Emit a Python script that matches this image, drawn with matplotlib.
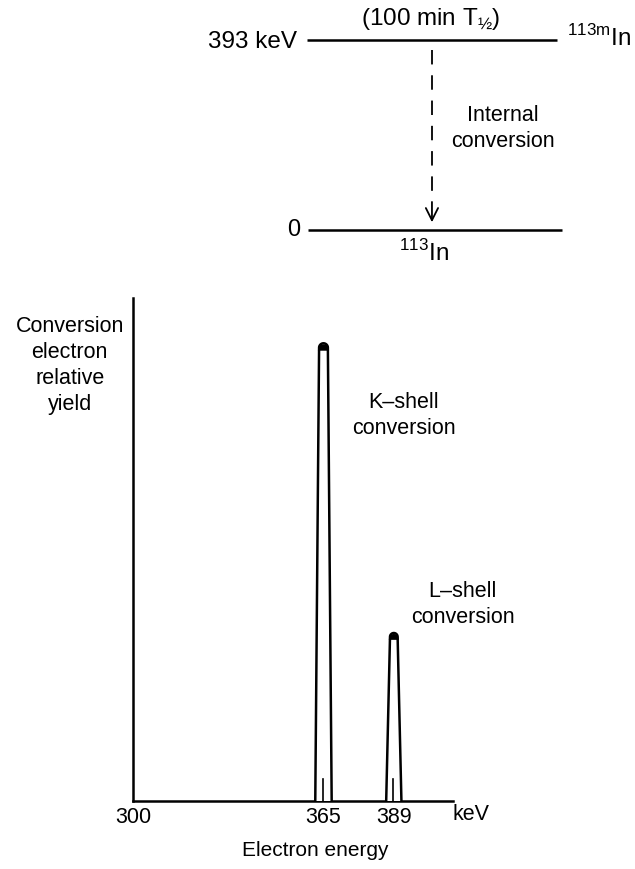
import matplotlib
matplotlib.use("Agg")
import matplotlib.pyplot as plt
import numpy as np
from matplotlib.patches import Polygon

plt.rcParams['font.family'] = ['Liberation Sans', 'DejaVu Sans']

# ---- data ----
level_energies = [393, 0]            # keV
level_left_labels = ["393 keV", "0"]
peak_labels = ["K\u2013shell\nconversion", "L\u2013shell\nconversion"]
peak_energies = [365, 389]           # keV
peak_heights = [0.91, 0.334]         # relative yield
tick_values = [300, 365, 389]
x_range = [300, 409.2]

W, H = 635, 869
fig = plt.figure(figsize=(W / 100, H / 100), dpi=100)

def fx(px):
    return px / W

def fy(py):
    return 1 - py / H

# ---- decay scheme (top) ----
axd = fig.add_axes([fx(305), fy(230), fx(562 - 305), (230 - 40) / H])
axd.set_xlim(0, 1)
axd.set_ylim(0, 393)
axd.axis('off')
axd.hlines(level_energies[0], 0.008, 0.981, color='black', lw=1.8, clip_on=False)
axd.hlines(level_energies[1], 0.012, 1.0, color='black', lw=1.8, clip_on=False)
axd.text(-0.03, level_energies[0] - 4, level_left_labels[0], ha='right', va='center', fontsize=17.5)
axd.text(-0.02, level_energies[1], level_left_labels[1], ha='right', va='center', fontsize=17)
axd.text(1.02, level_energies[0] + 4, r"$^{\mathregular{113m}}$In", ha='left', va='center', fontsize=17.5)
axd.text(0.49, level_energies[0] + 44, r"(100 min T$_{\mathregular{½}}$)", ha='center', va='center', fontsize=17.5)
axd.text(0.463, level_energies[1] - 47, r"$^{\mathregular{113}}$In", ha='center', va='center', fontsize=17.5)
axd.text(0.77, 210, "Internal\nconversion", ha='center', va='center', fontsize=15.5, linespacing=1.3)
xa = 0.494
axd.plot([xa, xa], [372, 60], color='black', lw=1.3, linestyle=(0, (8, 6)))
axd.annotate("", xy=(xa, 16), xytext=(xa, 58),
             arrowprops=dict(arrowstyle='->', lw=1.3, color='black',
                             mutation_scale=22, shrinkA=0, shrinkB=0))

# ---- spectrum (bottom) ----
ax = fig.add_axes([fx(133), fy(801), fx(453 - 133), (801 - 298) / H])
ax.set_xlim(*x_range)
ax.set_ylim(0, 1)
for s in ['top', 'right']:
    ax.spines[s].set_visible(False)
for s in ['left', 'bottom']:
    ax.spines[s].set_linewidth(1.8)
ax.set_yticks([])
ax.set_xticks(tick_values)
ax.set_xticklabels([str(v) for v in tick_values], fontsize=15.5)
ax.tick_params(axis='x', length=0, pad=4)
ax.text(1.0, -0.027, "keV", transform=ax.transAxes, ha='left', va='center', fontsize=15.5)
ax.text(0.57, -0.098, "Electron energy", transform=ax.transAxes, ha='center', va='center', fontsize=15)
ax.text(-0.198, 0.866, "Conversion\nelectron\nrelative\nyield", transform=ax.transAxes,
        ha='center', va='center', fontsize=15.5, linespacing=1.3)

half_base = [2.8, 2.6]
half_top = [1.5, 1.3]
px_per_keV = 320 / (x_range[1] - x_range[0])
for c, h, wb, wt in zip(peak_energies, peak_heights, half_base, half_top):
    r_y = wt * px_per_keV / 503.0
    ang = np.linspace(np.pi, 0, 15)
    top_x = c + wt * np.cos(ang)
    top_y = (h - r_y) + r_y * np.sin(ang)
    xs = np.concatenate([[c - wb], top_x, [c + wb]])
    ys = np.concatenate([[0], top_y, [0]])
    poly = Polygon(np.column_stack([xs, ys]), closed=False,
                   facecolor='white', edgecolor='black', lw=1.8, joinstyle='round', zorder=3)
    ax.add_patch(poly)
    cap = Polygon(np.column_stack([top_x, top_y - 0.004]), closed=True,
                  facecolor='black', edgecolor='black', lw=1.5, zorder=4)
    ax.add_patch(cap)
    ax.plot([c - 0.2, c - 0.2], [0, 0.044], color='black', lw=1.2, zorder=4)

ax.text(peak_energies[0] + 27.5, 0.767, peak_labels[0], ha='center', va='center',
        fontsize=15.5, linespacing=1.3)
ax.text(peak_energies[1] + 23.5, 0.39, peak_labels[1], ha='center', va='center',
        fontsize=15.5, linespacing=1.3)

fig.savefig("out.png", dpi=100)
